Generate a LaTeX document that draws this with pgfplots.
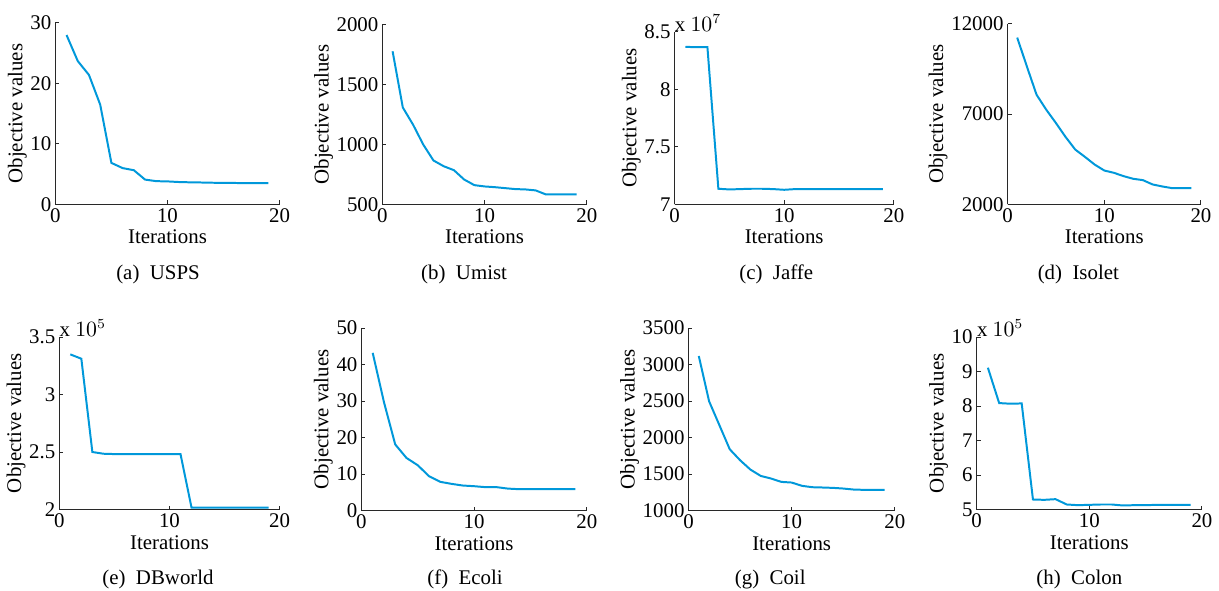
\documentclass[border=0pt]{standalone}
\usepackage{fontspec}
\setmainfont{Liberation Serif}
\usepackage{pgfplots}
\pgfplotsset{compat=1.18}

\definecolor{lineblue}{RGB}{0,152,218}
\definecolor{axisgray}{RGB}{40,40,40}

\pgfplotsset{
  conv/.style={
    scale only axis,
    anchor=south west,
    axis lines=left,
    axis line style={-, axisgray, line width=0.5pt},
    tick align=inside,
    major tick length=2bp,
    tick style={axisgray, line width=0.5pt},
    xmin=0, xmax=20,
    xtick={0,10,20},
    /pgf/number format/assume math mode=true,
    /pgf/number format/1000 sep={},
    ticklabel style={font=\fontsize{10.5}{12}\selectfont},
    label style={font=\fontsize{10.5}{12}\selectfont},
    xticklabel style={yshift=1.5bp},
    yticklabel style={xshift=1.5bp},
    xlabel={Iterations},
    ylabel={Objective values},
    xlabel style={yshift=3bp},
    ylabel style={yshift=-5bp},
    scaled y ticks=false,
    clip=false,
  },
  conv line/.style={lineblue, line width=1pt, no marks},
}

\begin{document}
\begin{tikzpicture}
\path (0,0) rectangle (609.5bp,296bp);

% (a) USPS
\begin{axis}[conv, at={(27.5bp,193.5bp)}, width=112.5bp, height=91bp,
  ymin=0, ymax=30, ytick={0,10,20,30}]
\addplot[conv line] coordinates {
(1,28.0) (2,23.7) (3,21.4) (4,16.5) (5,6.86) (6,6.0) (7,5.65) (8,4.1) (9,3.84) (10,3.8)
(11,3.7) (12,3.65) (13,3.62) (14,3.58) (15,3.56) (16,3.54) (17,3.52) (18,3.52) (19,3.52)};
\end{axis}

% (b) Umist
\begin{axis}[conv, at={(191.5bp,193.5bp)}, width=102.5bp, height=90bp,
  ymin=500, ymax=2000, ytick={500,1000,1500,2000}]
\addplot[conv line] coordinates {
(1,1780) (2,1310) (3,1167) (4,1000) (5,867) (6,819) (7,786) (8,708) (9,661) (10,650)
(11,644) (12,636) (13,628) (14,625) (15,617) (16,583) (17,583) (18,583) (19,583)};
\end{axis}

% (c) Jaffe
\begin{axis}[conv, at={(338bp,193.5bp)}, width=110bp, height=86.5bp,
  ymin=7, ymax=8.5, ytick={7,7.5,8,8.5}]
\addplot[conv line] coordinates {
(1,8.370) (2,8.367) (3,8.368) (4,7.136) (5,7.130) (6,7.133) (7,7.136) (8,7.136) (9,7.133) (10,7.127)
(11,7.133) (12,7.133) (13,7.133) (14,7.133) (15,7.133) (16,7.133) (17,7.133) (18,7.133) (19,7.133)};
\node[anchor=south west, inner sep=0pt, font=\fontsize{10.5}{12}\selectfont] at (rel axis cs:0,1) {x $10^{7}$};
\end{axis}

% (d) Isolet
\begin{axis}[conv, at={(505bp,193.5bp)}, width=97bp, height=90.5bp,
  ymin=2000, ymax=12000, ytick={2000,7000,12000}]
\addplot[conv line] coordinates {
(1,11245) (2,9643) (3,8077) (4,7249) (5,6512) (6,5738) (7,5039) (8,4634) (9,4210) (10,3878)
(11,3750) (12,3565) (13,3418) (14,3344) (15,3105) (16,2994) (17,2902) (18,2902) (19,2902)};
\end{axis}

% (e) DBworld
\begin{axis}[conv, at={(29.5bp,40.5bp)}, width=110.5bp, height=86.5bp,
  ymin=2, ymax=3.5, ytick={2,2.5,3,3.5}]
\addplot[conv line] coordinates {
(1,3.349) (2,3.311) (3,2.500) (4,2.485) (5,2.482) (6,2.482) (7,2.482) (8,2.482) (9,2.482) (10,2.482)
(11,2.482) (12,2.017) (13,2.017) (14,2.017) (15,2.017) (16,2.017) (17,2.017) (18,2.017) (19,2.017)};
\node[anchor=south west, inner sep=0pt, font=\fontsize{10.5}{12}\selectfont] at (rel axis cs:0,1) {x $10^{5}$};
\end{axis}

% (f) Ecoli
\begin{axis}[conv, at={(181bp,40bp)}, width=113bp, height=91.5bp,
  ymin=0, ymax=50, ytick={0,10,20,30,40,50}]
\addplot[conv line] coordinates {
(1,43.2) (2,29.7) (3,18.1) (4,14.4) (5,12.4) (6,9.4) (7,7.85) (8,7.3) (9,6.84) (10,6.66)
(11,6.4) (12,6.4) (13,6.0) (14,5.84) (15,5.84) (16,5.84) (17,5.84) (18,5.84) (19,5.84)};
\end{axis}

% (g) Coil
\begin{axis}[conv, at={(345bp,40bp)}, width=103.5bp, height=91.5bp,
  ymin=1000, ymax=3500, ytick={1000,1500,2000,2500,3000,3500}]
\addplot[conv line] coordinates {
(1,3117) (2,2496) (3,2168) (4,1839) (5,1689) (6,1561) (7,1474) (8,1438) (9,1392) (10,1383)
(11,1338) (12,1319) (13,1315) (14,1310) (15,1301) (16,1287) (17,1283) (18,1283) (19,1283)};
\end{axis}

% (h) Colon
\begin{axis}[conv, at={(489.5bp,40.5bp)}, width=113bp, height=86.5bp,
  ymin=5, ymax=10, ytick={5,6,7,8,9,10}]
\addplot[conv line] coordinates {
(1,9.11) (2,8.085) (3,8.066) (4,8.075) (5,5.29) (6,5.28) (7,5.30) (8,5.145) (9,5.126) (10,5.135)
(11,5.145) (12,5.145) (13,5.116) (14,5.126) (15,5.126) (16,5.135) (17,5.135) (18,5.135) (19,5.135)};
\node[anchor=south west, inner sep=0pt, font=\fontsize{10.5}{12}\selectfont] at (rel axis cs:0,1) {x $10^{5}$};
\end{axis}

% captions
\begin{scope}[every node/.style={font=\fontsize{10.5}{12}\selectfont, inner sep=0pt}]
\node at (79bp,158.5bp) {(a)\enspace USPS};
\node at (232.5bp,158.5bp) {(b)\enspace Umist};
\node at (389bp,158.5bp) {(c)\enspace Jaffe};
\node at (540.5bp,158.5bp) {(d)\enspace Isolet};
\node at (79bp,5.5bp) {(e)\enspace DBworld};
\node at (233bp,5.5bp) {(f)\enspace Ecoli};
\node at (386bp,5.5bp) {(g)\enspace Coil};
\node at (541bp,5.5bp) {(h)\enspace Colon};
\end{scope}
\end{tikzpicture}
\end{document}
